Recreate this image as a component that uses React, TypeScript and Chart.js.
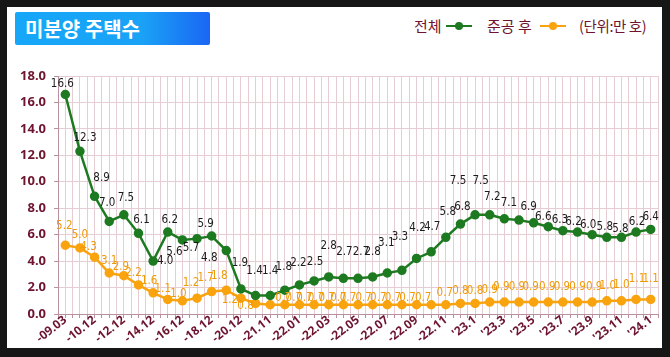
import React, { useEffect, useRef } from "react";
import { Chart, registerables } from "chart.js";

Chart.register(...registerables);

// Tick labels shown under every other point
const TICK_LABELS = [
  "-09.03", "-10.12", "-12.12", "-14.12", "-16.12", "-18.12", "-20.12",
  "-21.11", "-22.01", "-22.03", "-22.05", "-22.07", "-22.09", "-22.11",
  "'23.1", "'23.3", "'23.5", "'23.7", "'23.9", "'23.11", "'24.1",
];

// 전체 (total unsold homes, 만 호)
const TOTAL = [
  16.6, 12.3, 8.9, 7.0, 7.5, 6.1, 4.0, 6.2, 5.6, 5.7, 5.9, 4.8, 1.9, 1.4,
  1.4, 1.8, 2.2, 2.5, 2.8, 2.7, 2.7, 2.8, 3.1, 3.3, 4.2, 4.7, 5.8, 6.8,
  7.5, 7.5, 7.2, 7.1, 6.9, 6.6, 6.3, 6.2, 6.0, 5.8, 5.8, 6.2, 6.4,
];

// 준공 후 (after completion, 만 호)
const COMPLETED = [
  5.2, 5.0, 4.3, 3.1, 2.9, 2.2, 1.6, 1.1, 1.0, 1.2, 1.7, 1.8, 1.2, 0.8,
  0.7, 0.7, 0.7, 0.7, 0.7, 0.7, 0.7, 0.7, 0.7, 0.7, 0.7, 0.7, 0.7, 0.8,
  0.8, 0.9, 0.9, 0.9, 0.9, 0.9, 0.9, 0.9, 0.9, 1.0, 1.0, 1.1, 1.1,
];

const Y_TICKS = [0, 2, 4, 6, 8, 10, 12, 14, 16, 18];

// value-label placement relative to each point (label layout, not data)
const TOTAL_LABEL_OFFSETS: [number, number][] = [
  [-3, -10], [5, -13], [7, -18], [-2, -18], [2, -17], [3, -13], [12, 0],
  [2, -12], [-8, 12], [-6, 9], [-6, -12], [-17, 7], [-1, -26], [-1, -24],
  [0, -24], [-1, -23], [-1, -22], [1, -19], [0, -31], [1, -26], [3, -26],
  [0, -25], [-1, -30], [-2, -33], [1, -30], [1, -25], [2, -25], [2, -17],
  [-17, -34], [-9, -34], [-12, -22], [-10, -17], [-5, -16], [-5, -10],
  [-3, -11], [-4, -10], [-4, -10], [-2, -10], [-1, -8], [1, -10], [0, -12],
];
const COMPLETED_LABEL_OFFSETS: [number, number][] = [
  [-1, -19], [0, -13], [-6, -10], [0, -12], [-3, -9], [-5, -12], [-4, -12],
  [-5, -10], [-4, -7], [-6, -15], [-6, -14], [-7, -14], [-11, 2], [-10, 3],
  [13, -7], [9, -7], [5, -7], [2, -7], [-2, -7], [-5, -7], [-10, -7],
  [-9, -7], [-9, -7], [-9, -7], [-9, -7], [-8, -7], [-1, -12], [0, -12],
  [0, -12], [0, -12], [-3, -15], [-2, -15], [-3, -15], [-1, -15], [-1, -15],
  [0, -15], [2, -15], [1, -15], [0, -16], [1, -20], [0, -20],
];

const GREEN = "#1d7a20";
const ORANGE = "#f9a30f";
const MAROON = "#6e1430";
const GRID = "#e6cdd4";
const AXIS = "#b8919e";

const valueLabels = {
  id: "valueLabels",
  afterDatasetsDraw(chart: any) {
    const ctx = chart.ctx;
    chart.data.datasets.forEach((ds: any, di: number) => {
      const meta = chart.getDatasetMeta(di);
      const offs = di === 0 ? TOTAL_LABEL_OFFSETS : COMPLETED_LABEL_OFFSETS;
      ctx.save();
      ctx.font = "11.5px 'Liberation Sans Narrow', 'DejaVu Sans Condensed', sans-serif";
      ctx.fillStyle = di === 0 ? "#1c1c1c" : "#f09a08";
      ctx.textAlign = "center";
      ctx.textBaseline = "middle";
      meta.data.forEach((pt: any, i: number) => {
        const v = ds.data[i].y as number;
        const o = offs[i] || [0, -12];
        ctx.fillText(v.toFixed(1), pt.x + o[0], pt.y + o[1]);
      });
      ctx.restore();
    });
  },
};

export default function App() {
  const canvasRef = useRef<HTMLCanvasElement | null>(null);

  useEffect(() => {
    if (!canvasRef.current) return;
    const chart = new Chart(canvasRef.current, {
      type: "line",
      data: {
        datasets: [
          {
            label: "전체",
            data: TOTAL.map((y, i) => ({ x: i, y })),
            borderColor: GREEN,
            backgroundColor: GREEN,
            pointBackgroundColor: GREEN,
            pointBorderColor: GREEN,
            pointRadius: 3.5,
            borderWidth: 2.5,
            tension: 0,
          },
          {
            label: "준공 후",
            data: COMPLETED.map((y, i) => ({ x: i, y })),
            borderColor: ORANGE,
            backgroundColor: ORANGE,
            pointBackgroundColor: ORANGE,
            pointBorderColor: ORANGE,
            pointRadius: 3.5,
            borderWidth: 2.5,
            tension: 0,
          },
        ],
      },
      options: {
        animation: false,
        responsive: false,
        maintainAspectRatio: false,
        layout: { padding: { top: 76, right: 12, left: 0, bottom: 0 } },
        plugins: {
          legend: { display: false },
          tooltip: { enabled: false },
        },
        scales: {
          x: {
            type: "linear",
            min: -0.5,
            max: TOTAL.length - 0.5,
            afterBuildTicks: (scale: any) => {
              const t = [];
              for (let v = -0.5; v <= TOTAL.length - 0.5 + 1e-9; v += 0.5) t.push({ value: v });
              scale.ticks = t;
            },
            afterFit: (scale: any) => {
              scale.height = 43;
            },
            grid: {
              color: GRID,
              lineWidth: 1,
              drawTicks: true,
              tickLength: 4,
              tickColor: AXIS,
            },
            border: { color: AXIS, width: 1 },
            ticks: {
              autoSkip: false,
              maxRotation: 38,
              minRotation: 38,
              padding: -5,
              color: MAROON,
              font: { family: "'Noto Sans', sans-serif", size: 12, weight: "bold" },
              callback: (v: any) => {
                const n = Number(v);
                if (Math.abs(n - Math.round(n)) < 1e-6 && Math.round(n) % 2 === 0) {
                  return TICK_LABELS[Math.round(n) / 2] ?? "";
                }
                return "";
              },
            },
          },
          y: {
            min: Y_TICKS[0],
            max: Y_TICKS[Y_TICKS.length - 1],
            afterFit: (scale: any) => {
              scale.width = 58;
            },
            grid: {
              color: GRID,
              lineWidth: 1,
              tickLength: 4,
              tickColor: AXIS,
            },
            border: { color: AXIS, width: 1 },
            ticks: {
              stepSize: 2,
              padding: 8,
              color: MAROON,
              font: { family: "'Noto Sans', sans-serif", size: 13, weight: "bold" },
              callback: (v: any) => Number(v).toFixed(1),
            },
          },
        },
      },
      plugins: [valueLabels],
    } as any);
    return () => chart.destroy();
  }, []);

  const legendText: React.CSSProperties = {
    position: "absolute",
    top: 14,
    color: MAROON,
    fontSize: 15,
    lineHeight: "24px",
    fontFamily: "'Noto Sans CJK KR', sans-serif",
    whiteSpace: "nowrap",
  };

  const marker = (c: string, left: number) => (
    <div style={{ position: "absolute", left, top: 21, width: 26, height: 10 }}>
      <div style={{ position: "absolute", left: 0, right: 0, top: 4, height: 2, background: c }} />
      <div style={{ position: "absolute", left: 9, top: 1, width: 8, height: 8, borderRadius: 4, background: c }} />
    </div>
  );

  return (
    <div style={{ position: "fixed", left: 0, top: 0, width: 670, height: 357, background: "#161616", overflow: "hidden" }}>
      <div style={{ position: "absolute", left: 7, top: 7, width: 655, height: 341, background: "#ffffff" }} />
      <div
        style={{
          position: "absolute",
          left: 15,
          top: 12,
          width: 195,
          height: 33,
          borderRadius: 2,
          background: "linear-gradient(90deg, #17a7f8 0%, #1aa2f6 65%, #1b66f4 100%)",
          color: "#ffffff",
          fontFamily: "'Noto Sans CJK KR', sans-serif",
          fontWeight: 700,
          fontSize: 20,
          lineHeight: "33px",
          paddingLeft: 10,
          boxSizing: "border-box",
          whiteSpace: "nowrap",
        }}
      >
        미분양 주택수
      </div>
      <span style={{ ...legendText, left: 414 }}>전체</span>
      {marker(GREEN, 446)}
      <span style={{ ...legendText, left: 487 }}>준공 후</span>
      {marker(ORANGE, 540)}
      <span style={{ ...legendText, left: 579, fontSize: 14.5, letterSpacing: -0.4 }}>(단위:만&nbsp;호)</span>
      <canvas ref={canvasRef} width={670} height={357} style={{ position: "absolute", left: 0, top: 0, width: 670, height: 357 }} />
    </div>
  );
}
